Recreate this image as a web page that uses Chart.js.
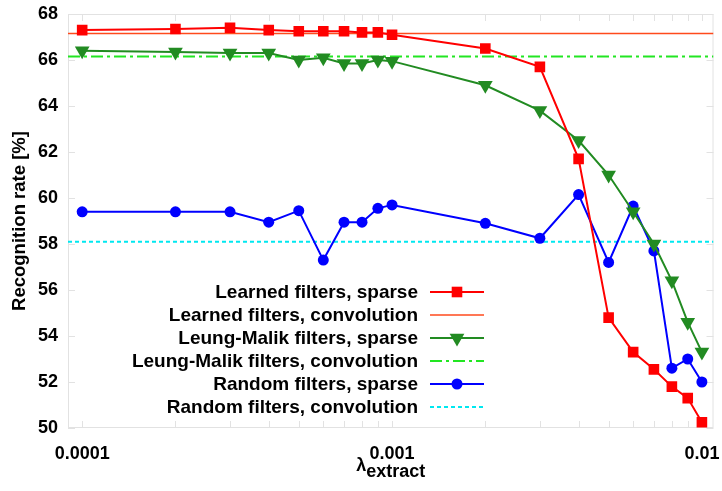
<!DOCTYPE html>
<html>
<head>
<meta charset="utf-8">
<script src="https://cdn.jsdelivr.net/npm/chart.js@4"></script>
<style>
  html, body { margin: 0; padding: 0; background: #fff; }
  #wrap { width: 722px; height: 491px; }
</style>
</head>
<body>
<div id="wrap"><canvas id="rates"></canvas></div>
<script>
  // lambda_extract values (x axis, log)
  const lambdas = [0.0001, 0.0002, 0.0003, 0.0004, 0.0005, 0.0006, 0.0007, 0.0008, 0.0009,
                   0.001, 0.002, 0.003, 0.004, 0.005, 0.006, 0.007, 0.008, 0.009, 0.01];
  const xMin = 0.00009, xMax = 0.0109;

  const learnedSparse = [67.3, 67.35, 67.4, 67.3, 67.25, 67.25, 67.25, 67.2, 67.2, 67.1,
                         66.5, 65.7, 61.7, 54.8, 53.3, 52.55, 51.8, 51.3, 50.25];
  const learnedConv = 67.15;
  const lmSparse = [66.4, 66.35, 66.3, 66.3, 66.0, 66.1, 65.85, 65.85, 66.0, 65.95,
                    64.9, 63.8, 62.5, 61.0, 59.4, 58.0, 56.4, 54.6, 53.3];
  const lmConv = 66.15;
  const randomSparse = [59.4, 59.4, 59.4, 58.95, 59.45, 57.3, 58.95, 58.95, 59.55, 59.7,
                        58.9, 58.25, 60.15, 57.2, 59.65, 57.7, 52.6, 53.0, 52.0];
  const randomConv = 58.1;

  const xLabels = [0.0001, 0.001, 0.01];
  const yTicks = [50, 52, 54, 56, 58, 60, 62, 64, 66, 68];

  const pts = arr => lambdas.map((x, i) => ({x: x, y: arr[i]}));
  const flat = v => [{x: xMin, y: v}, {x: xMax, y: v}];

  const FONT = 'Liberation Sans, Arial, sans-serif';

  function marker(ctx, style, x, y, r, color) {
    ctx.save();
    ctx.fillStyle = color;
    ctx.beginPath();
    if (style === 'rect') {
      const s = r * Math.SQRT1_2;
      ctx.rect(x - s, y - s, 2 * s, 2 * s);
    } else if (style === 'triangle') {
      ctx.moveTo(x, y + r);
      ctx.lineTo(x - r * 0.866, y - r * 0.5);
      ctx.lineTo(x + r * 0.866, y - r * 0.5);
      ctx.closePath();
    } else {
      ctx.arc(x, y, r, 0, Math.PI * 2);
    }
    ctx.fill();
    ctx.restore();
  }

  const frame = {
    id: 'frame',
    beforeDatasetsDraw(chart) {
      const {ctx, chartArea: a, scales} = chart;
      ctx.save();
      ctx.strokeStyle = '#e2e2e2';
      ctx.lineWidth = 1;
      ctx.strokeRect(a.left + 0.5, a.top + 0.5, a.right - a.left - 1, a.bottom - a.top - 1);
      const t = 7;
      ctx.beginPath();
      scales.x.ticks.forEach(tk => {
        const px = Math.round(scales.x.getPixelForValue(tk.value)) + 0.5;
        ctx.moveTo(px, a.bottom); ctx.lineTo(px, a.bottom - t);
        ctx.moveTo(px, a.top); ctx.lineTo(px, a.top + t);
      });
      scales.y.ticks.forEach(tk => {
        const py = Math.round(scales.y.getPixelForValue(tk.value)) + 0.5;
        ctx.moveTo(a.left, py); ctx.lineTo(a.left + t, py);
        ctx.moveTo(a.right, py); ctx.lineTo(a.right - t, py);
      });
      ctx.stroke();
      ctx.restore();
    },
    afterDraw(chart) {
      const {ctx, chartArea: a} = chart;
      ctx.save();
      // legend
      ctx.font = 'bold 19px ' + FONT;
      ctx.textAlign = 'right';
      ctx.textBaseline = 'middle';
      const textRight = 418, x0 = 430, x1 = 484, y0 = 292, step = 23;
      chart.data.datasets.forEach((ds, i) => {
        const y = y0 + i * step;
        ctx.fillStyle = '#000';
        ctx.fillText(ds.label, textRight, y + 1);
        ctx.save();
        ctx.strokeStyle = ds.borderColor;
        ctx.lineWidth = ds.borderWidth;
        ctx.setLineDash(ds.borderDash || []);
        ctx.beginPath();
        ctx.moveTo(x0, y); ctx.lineTo(x1, y);
        ctx.stroke();
        ctx.restore();
        if (ds.pointRadius > 0) marker(ctx, ds.pointStyle, (x0 + x1) / 2, y, ds.pointRadius, ds.pointBackgroundColor);
      });
      // x axis title with subscript
      ctx.textAlign = 'left';
      ctx.textBaseline = 'alphabetic';
      ctx.font = 'bold 18px ' + FONT;
      const w1 = ctx.measureText('λ').width;
      const w2 = ctx.measureText('extract').width;
      const sx = (a.left + a.right) / 2 - (w1 + w2) / 2;
      ctx.fillText('λ', sx, 471);
      ctx.fillText('extract', sx + w1, 477);
      ctx.restore();
    }
  };

  new Chart(document.getElementById('rates'), {
    type: 'line',
    data: {
      datasets: [{
        label: 'Learned filters, sparse',
        data: pts(learnedSparse),
        borderColor: '#ff0000', borderWidth: 2,
        pointStyle: 'rect', pointRadius: 7.5,
        pointBackgroundColor: '#ff0000', pointBorderWidth: 0
      }, {
        label: 'Learned filters, convolution',
        data: flat(learnedConv),
        borderColor: '#ff4a1c', borderWidth: 1.5, pointRadius: 0
      }, {
        label: 'Leung-Malik filters, sparse',
        data: pts(lmSparse),
        borderColor: '#228b22', borderWidth: 2,
        pointStyle: 'triangle', pointRadius: 8.5, pointRotation: 180,
        pointBackgroundColor: '#228b22', pointBorderWidth: 0
      }, {
        label: 'Leung-Malik filters, convolution',
        data: flat(lmConv),
        borderColor: '#22e622', borderWidth: 2, borderDash: [12, 4, 3, 4], pointRadius: 0
      }, {
        label: 'Random filters, sparse',
        data: pts(randomSparse),
        borderColor: '#0000ff', borderWidth: 2,
        pointStyle: 'circle', pointRadius: 5.5,
        pointBackgroundColor: '#0000ff', pointBorderWidth: 0
      }, {
        label: 'Random filters, convolution',
        data: flat(randomConv),
        borderColor: '#00e8f0', borderWidth: 2, borderDash: [4, 3], pointRadius: 0
      }]
    },
    options: {
      responsive: true,
      maintainAspectRatio: false,
      animation: false,
      layout: { padding: { top: 14, right: 8, left: 0, bottom: 0 } },
      plugins: { legend: { display: false }, tooltip: { enabled: false } },
      elements: { line: { tension: 0 } },
      scales: {
        x: {
          type: 'logarithmic',
          min: xMin, max: xMax,
          grid: { display: false },
          border: { display: false },
          afterBuildTicks: axis => { axis.ticks = lambdas.map(v => ({value: v})); },
          ticks: {
            autoSkip: false, maxRotation: 0, padding: 7,
            color: '#000', font: { family: FONT, size: 18, weight: 'bold' },
            callback: v => xLabels.includes(v) ? String(v) : ''
          },
          afterFit: s => { s.height = 63; s.paddingLeft = 0; s.paddingRight = 0; }
        },
        y: {
          min: 50, max: 68,
          grid: { display: false, drawTicks: false },
          border: { display: false },
          afterBuildTicks: axis => { axis.ticks = yTicks.map(v => ({value: v})); },
          ticks: {
            padding: 10, color: '#000',
            font: { family: FONT, size: 18, weight: 'bold' }
          },
          title: {
            display: true, text: 'Recognition rate [%]', color: '#000',
            font: { family: FONT, size: 18.5, weight: 'bold' },
            padding: { top: 9, bottom: 0 }
          },
          afterFit: s => { s.width = 68; s.paddingTop = 0; s.paddingBottom = 0; }
        }
      }
    },
    plugins: [frame]
  });
</script>
</body>
</html>
